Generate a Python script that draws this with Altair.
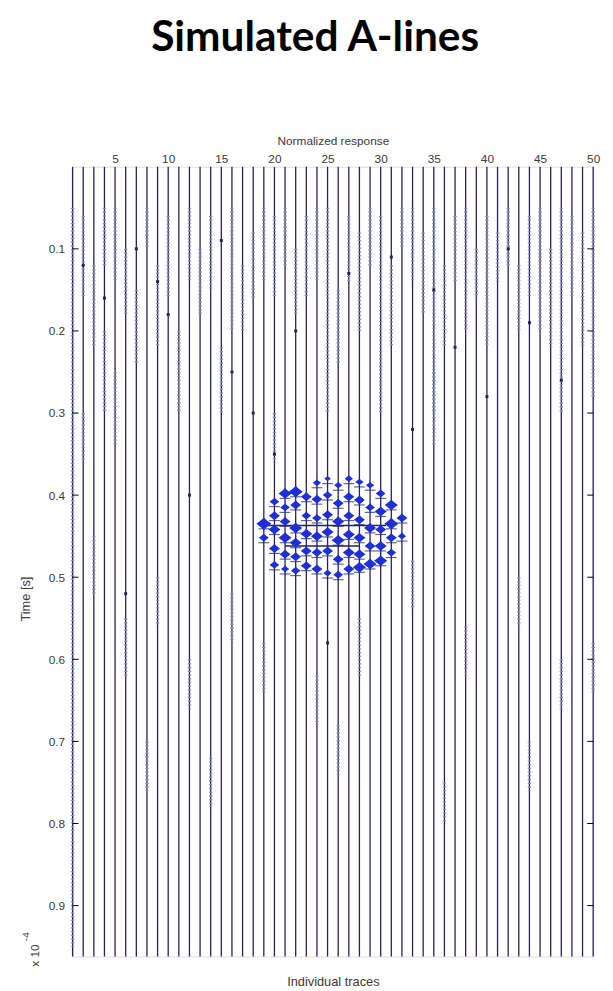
import altair as alt
import pandas as pd

# ---------------- data ----------------
traces = list(range(1, 51))
t_top, t_bottom = 0.0, 0.962
x_ticks = [5, 10, 15, 20, 25, 30, 35, 40, 45, 50]
y_ticks = [0.1, 0.2, 0.3, 0.4, 0.5, 0.6, 0.7, 0.8, 0.9]

# strong reflections (trace, time [x1e-4 s], amplitude in trace units)
blob_trace = [19, 19, 20, 20, 20, 20, 20, 21, 21, 21, 21, 21, 21, 22, 22, 22, 22, 22, 22,
              23, 23, 23, 23, 23, 24, 24, 24, 24, 24, 24, 25, 25, 25, 25, 25, 25,
              26, 26, 26, 26, 26, 26, 27, 27, 27, 27, 27, 27, 28, 28, 28, 28, 28, 28,
              29, 29, 29, 29, 29, 30, 30, 30, 30, 30, 31, 31, 31, 31, 32, 32]
blob_time = [0.435, 0.452, 0.408, 0.425, 0.442, 0.465, 0.485,
             0.398, 0.415, 0.432, 0.452, 0.472, 0.490,
             0.396, 0.412, 0.440, 0.458, 0.475, 0.492,
             0.402, 0.425, 0.447, 0.468, 0.486,
             0.385, 0.405, 0.428, 0.450, 0.470, 0.490,
             0.380, 0.400, 0.424, 0.445, 0.468, 0.495,
             0.388, 0.410, 0.432, 0.455, 0.478, 0.497,
             0.380, 0.402, 0.425, 0.448, 0.470, 0.490,
             0.384, 0.406, 0.430, 0.452, 0.472, 0.488,
             0.388, 0.415, 0.440, 0.462, 0.484,
             0.398, 0.420, 0.442, 0.462, 0.480,
             0.412, 0.435, 0.452, 0.470, 0.428, 0.450]
blob_amp = [0.55, 0.30, 0.30, 0.35, 0.40, 0.35, 0.30,
            0.45, 0.30, 0.35, 0.45, 0.35, 0.25,
            0.50, 0.35, 0.45, 0.40, 0.35, 0.30,
            0.35, 0.30, 0.40, 0.35, 0.35,
            0.25, 0.35, 0.30, 0.40, 0.35, 0.35,
            0.20, 0.30, 0.35, 0.40, 0.35, 0.25,
            0.25, 0.35, 0.40, 0.45, 0.35, 0.30,
            0.25, 0.35, 0.35, 0.40, 0.40, 0.35,
            0.25, 0.35, 0.35, 0.40, 0.40, 0.45,
            0.25, 0.30, 0.40, 0.35, 0.45,
            0.30, 0.40, 0.35, 0.40, 0.45,
            0.45, 0.50, 0.35, 0.30, 0.35, 0.25]

# horizontal streaks crossing the reflector (time, first trace, last trace)
streak_time = [0.437, 0.462]
streak_x0 = [18.6, 21]
streak_x1 = [30.5, 28]

# weak noise wiggles along the traces (trace, start time, end time)
noise_trace = [1, 2, 2, 3, 4, 4, 5, 5, 6, 7, 8, 9, 10, 11, 12, 13, 14, 15, 16, 17,
               18, 19, 20, 20, 21, 22, 23, 24, 25, 26, 27, 28, 29, 30, 31, 32, 33,
               34, 35, 35, 36, 37, 38, 39, 40, 41, 42, 43, 44, 45, 46, 47, 48, 49, 50,
               3, 6, 9, 12, 16, 19, 24, 28, 33, 38, 43, 47, 50, 8, 14, 26, 36, 44]
noise_t0 = [0.05, 0.06, 0.30, 0.12, 0.05, 0.20, 0.05, 0.25, 0.10, 0.15, 0.05, 0.12, 0.06, 0.20, 0.05, 0.10, 0.06, 0.22, 0.05, 0.12,
            0.08, 0.05, 0.06, 0.30, 0.05, 0.10, 0.06, 0.05, 0.05, 0.15, 0.06, 0.08, 0.05, 0.06, 0.12, 0.05, 0.05,
            0.08, 0.05, 0.25, 0.12, 0.06, 0.05, 0.10, 0.06, 0.08, 0.05, 0.12, 0.06, 0.05, 0.10, 0.05, 0.06, 0.08, 0.05,
            0.45, 0.55, 0.50, 0.60, 0.52, 0.58, 0.62, 0.55, 0.48, 0.56, 0.50, 0.60, 0.58, 0.70, 0.72, 0.68, 0.75, 0.70]
noise_t1 = [0.95, 0.16, 0.36, 0.22, 0.12, 0.30, 0.14, 0.34, 0.18, 0.24, 0.10, 0.22, 0.16, 0.30, 0.14, 0.18, 0.15, 0.30, 0.20, 0.20,
            0.16, 0.14, 0.16, 0.36, 0.12, 0.18, 0.16, 0.14, 0.30, 0.24, 0.14, 0.20, 0.12, 0.30, 0.22, 0.10, 0.14,
            0.18, 0.30, 0.34, 0.22, 0.14, 0.20, 0.16, 0.22, 0.14, 0.12, 0.20, 0.16, 0.20, 0.22, 0.30, 0.16, 0.22, 0.28,
            0.52, 0.62, 0.56, 0.66, 0.58, 0.64, 0.68, 0.62, 0.54, 0.62, 0.56, 0.66, 0.64, 0.76, 0.78, 0.74, 0.80, 0.76]

# isolated dark spikes (trace, time)
spike_trace = [2, 4, 7, 9, 10, 15, 16, 18, 22, 27, 31, 35, 37, 42, 44, 47, 12, 20, 33, 40, 6, 25]
spike_time = [0.12, 0.16, 0.10, 0.14, 0.18, 0.09, 0.25, 0.30, 0.20, 0.13, 0.11, 0.15, 0.22, 0.10, 0.19, 0.26, 0.40, 0.35, 0.32, 0.28, 0.52, 0.58]

# ---------------- tables ----------------
df_tr = pd.DataFrame({"trace": traces, "t0": t_top, "t1": t_bottom})
df_blob = pd.DataFrame({"trace": blob_trace, "time": blob_time, "amp": blob_amp})
df_streak = pd.DataFrame({"time": streak_time, "x0": streak_x0, "x1": streak_x1})
df_noise = pd.DataFrame({"trace": noise_trace, "t0": noise_t0, "t1": noise_t1})
df_spike = pd.DataFrame({"trace": spike_trace, "time": spike_time})
df_yt = pd.DataFrame({"time": y_ticks})
df_one = pd.DataFrame({"k": [0]})

W, H = 528, 801
FONT = "Liberation Sans"
LINE = "#23215e"
BLUE = "#1f2fd6"
LBL = "#3a3a3a"

xsc = alt.Scale(domain=[1, 50], nice=False, zero=False)
ysc = alt.Scale(domain=[t_top, t_bottom], reverse=True, nice=False, zero=False)

x_top_axis = alt.Axis(orient="top", values=x_ticks, title="Normalized response",
                      labelFontSize=12, labelFont=FONT, labelColor=LBL, labelPadding=1,
                      titleFont=FONT, titleFontSize=12, titleFontWeight="normal", titleColor=LBL,
                      titlePadding=6, ticks=False, domain=False, grid=False, labelFlush=False)
x_bot_axis = alt.Axis(orient="bottom", values=[], labels=False, ticks=False, domain=False, grid=False,
                      title="Individual traces", titleFont=FONT, titleFontSize=13,
                      titleFontWeight="normal", titleColor=LBL, titlePadding=19)
y_axis = alt.Axis(values=y_ticks, format=".1f", title="Time [s]", labelFontSize=12, labelFont=FONT,
                  labelColor=LBL, labelPadding=8, tickSize=0, domain=False, grid=False,
                  titleFont=FONT, titleFontSize=13, titleFontWeight="normal", titleColor=LBL,
                  titleAngle=270, titleX=-48, titleY=438, titleBaseline="middle")

lines = alt.Chart(df_tr).mark_rule(color=LINE, strokeWidth=1.3).encode(
    x=alt.X("trace:Q", scale=xsc, axis=x_top_axis),
    y=alt.Y("t0:Q", scale=ysc, axis=y_axis),
    y2="t1:Q",
)

noise = alt.Chart(df_noise).mark_rule(color="#8e8eb4", strokeWidth=3.5, strokeDash=[1.4, 2.4], opacity=0.9).encode(
    x="trace:Q", y="t0:Q", y2="t1:Q")

spikes = alt.Chart(df_spike).mark_point(shape="square", filled=True, color=LINE, size=9, opacity=1).encode(
    x="trace:Q", y="time:Q")

streaks = alt.Chart(df_streak).mark_rule(color=LINE, strokeWidth=1.6).encode(
    x="x0:Q", x2="x1:Q", y="time:Q")

lozenge = "M-1,0L-0.35,-0.5L0,-0.85L0.35,-0.5L1,0L0.35,0.5L0,0.85L-0.35,0.5Z"
blob = alt.Chart(df_blob).mark_point(shape=lozenge, filled=True, color=BLUE, opacity=1).encode(
    x="trace:Q", y="time:Q",
    size=alt.Size("amp:Q", scale=alt.Scale(domain=[0.2, 0.55], range=[45, 230]), legend=None))
dashes = alt.Chart(df_blob).mark_tick(orient="horizontal", color=LINE, thickness=1.2, size=11).encode(
    x="trace:Q", y=alt.Y("time:Q"), yOffset=alt.value(5))

ticks_l = alt.Chart(df_yt).mark_rule(color="black", strokeWidth=1).encode(
    y="time:Q", x=alt.value(0), x2=alt.value(6))
ticks_r = alt.Chart(df_yt).mark_rule(color="black", strokeWidth=1).encode(
    y="time:Q", x=alt.value(W - 6), x2=alt.value(W))

exp_main = alt.Chart(df_one).mark_text(text="x 10", angle=270, font=FONT, fontSize=12,
                                       color=LBL, align="center", baseline="middle").encode(
    x=alt.value(-38), y=alt.value(800))
exp_sup = alt.Chart(df_one).mark_text(text="-4", angle=270, font=FONT, fontSize=10,
                                      color=LBL, align="center", baseline="middle").encode(
    x=alt.value(-47), y=alt.value(781))

main = alt.layer(lines, noise, spikes, streaks, dashes, blob, ticks_l, ticks_r, exp_main, exp_sup)

bottom = alt.Chart(df_tr).mark_rule(opacity=0).encode(
    x=alt.X("trace:Q", scale=xsc, axis=x_bot_axis))

chart = alt.layer(main, bottom).resolve_axis(x="independent").properties(
    width=W, height=H,
    title=alt.Title("Simulated A-lines", font="Lato", fontSize=43, fontWeight="bold", color="black",
                    anchor="middle", offset=64, dx=-18, dy=-11),
    autosize=alt.AutoSizeParams(type="none"),
    padding={"left": 65.5, "top": 154, "right": 12, "bottom": 28},
).configure_view(stroke="black", strokeWidth=1.2).configure(background="white")

chart.save("out.html", embed_options={"renderer": "svg", "actions": False})
